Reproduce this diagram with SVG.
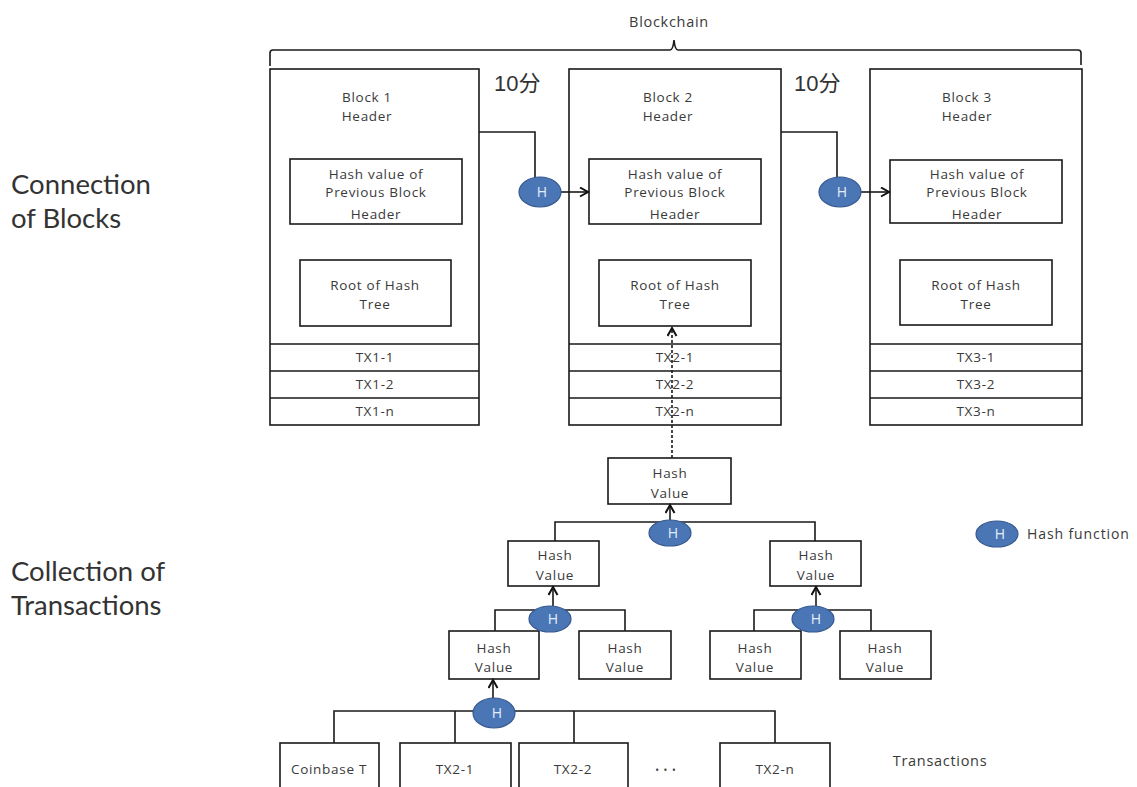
<svg xmlns="http://www.w3.org/2000/svg" width="1137" height="787" viewBox="0 0 1137 787">
<style>
.box{fill:#fff;stroke:#1a1a1a;stroke-width:1.6}
.t{font-family:"Open Sans","Liberation Sans",sans-serif;font-size:13.5px;fill:#3a3a3a;text-anchor:middle;letter-spacing:0.7px}
.big{font-family:Lato,"Open Sans","Liberation Sans",sans-serif;font-size:27.5px;fill:#333}
.cjk{font-family:"Liberation Sans","Noto Sans CJK SC",sans-serif;font-size:22px;fill:#333}
.ln{fill:none;stroke:#1a1a1a;stroke-width:1.6}
.arr{fill:none;stroke:#1a1a1a;stroke-width:1.6;marker-end:url(#ah)}
.hf{fill:#4b76b5;stroke:#35598f;stroke-width:1.2}
.ht{font-family:"Open Sans","Liberation Sans",sans-serif;font-size:14px;fill:#e4eefa;text-anchor:middle}
</style>
<defs>
<marker id="ah" markerWidth="12" markerHeight="12" refX="9" refY="5" orient="auto" markerUnits="userSpaceOnUse">
<path d="M1,0.5 L9,5 L1,9.5" fill="none" stroke="#111" stroke-width="2"/>
</marker>
</defs>
<rect width="1137" height="787" fill="#fff"/>

<g id="labels">
<text class="t" x="669" y="27" style="font-size:14.5px">Blockchain</text>
<text class="big" x="11" y="194">Connection</text>
<text class="big" x="11" y="228">of Blocks</text>
<text class="big" x="11" y="581">Collection of</text>
<text class="big" x="11" y="615">Transactions</text>
<text class="cjk" x="494" y="91">10分</text>
<text class="cjk" x="794" y="91">10分</text>
<text class="t" x="940" y="766" style="font-size:14.5px">Transactions</text>
</g>

<g id="block1">
<rect class="box" x="270" y="69" width="209" height="356"/>
<text class="t" x="367" y="102">Block 1</text>
<text class="t" x="367" y="121">Header</text>
<rect class="box" x="290" y="159" width="172" height="65"/>
<text class="t" x="376" y="179">Hash value of</text>
<text class="t" x="376" y="197">Previous Block</text>
<text class="t" x="376" y="219">Header</text>
<rect class="box" x="300" y="260" width="151" height="66"/>
<text class="t" x="375" y="290">Root of Hash</text>
<text class="t" x="375" y="309">Tree</text>
<path class="ln" d="M270,344 H479 M270,371 H479 M270,398 H479"/>
<text class="t" x="375" y="362">TX1-1</text>
<text class="t" x="375" y="389">TX1-2</text>
<text class="t" x="375" y="416">TX1-n</text>
</g>

<g id="block2">
<rect class="box" x="569" y="69" width="212" height="356"/>
<text class="t" x="668" y="102">Block 2</text>
<text class="t" x="668" y="121">Header</text>
<rect class="box" x="589" y="159" width="172" height="65"/>
<text class="t" x="675" y="179">Hash value of</text>
<text class="t" x="675" y="197">Previous Block</text>
<text class="t" x="675" y="219">Header</text>
<rect class="box" x="599" y="260" width="152" height="66"/>
<text class="t" x="675" y="290">Root of Hash</text>
<text class="t" x="675" y="309">Tree</text>
<path class="ln" d="M569,344 H781 M569,371 H781 M569,398 H781"/>
<text class="t" x="675" y="362">TX2-1</text>
<text class="t" x="675" y="389">TX2-2</text>
<text class="t" x="675" y="416">TX2-n</text>
</g>

<g id="block3">
<rect class="box" x="870" y="69" width="212" height="356"/>
<text class="t" x="967" y="102">Block 3</text>
<text class="t" x="967" y="121">Header</text>
<rect class="box" x="890" y="160" width="172" height="63"/>
<text class="t" x="977" y="179">Hash value of</text>
<text class="t" x="977" y="197">Previous Block</text>
<text class="t" x="977" y="219">Header</text>
<rect class="box" x="900" y="260" width="152" height="65"/>
<text class="t" x="976" y="290">Root of Hash</text>
<text class="t" x="976" y="309">Tree</text>
<path class="ln" d="M870,344 H1082 M870,371 H1082 M870,398 H1082"/>
<text class="t" x="976" y="362">TX3-1</text>
<text class="t" x="976" y="389">TX3-2</text>
<text class="t" x="976" y="416">TX3-n</text>
</g>

<g id="hash-root">
<rect class="box" x="608" y="458" width="123" height="46"/>
<text class="t" x="670" y="478">Hash</text>
<text class="t" x="670" y="498">Value</text>
</g>
<g id="hash-l2a">
<rect class="box" x="508" y="541" width="91" height="45"/>
<text class="t" x="555" y="560">Hash</text>
<text class="t" x="555" y="580">Value</text>
</g>
<g id="hash-l2b">
<rect class="box" x="770" y="541" width="91" height="45"/>
<text class="t" x="816" y="560">Hash</text>
<text class="t" x="816" y="580">Value</text>
</g>
<g id="hash-l3a">
<rect class="box" x="449" y="631" width="90" height="48"/>
<text class="t" x="494" y="653">Hash</text>
<text class="t" x="494" y="672">Value</text>
</g>
<g id="hash-l3b">
<rect class="box" x="579" y="631" width="92" height="48"/>
<text class="t" x="625" y="653">Hash</text>
<text class="t" x="625" y="672">Value</text>
</g>
<g id="hash-l3c">
<rect class="box" x="710" y="631" width="91" height="48"/>
<text class="t" x="755" y="653">Hash</text>
<text class="t" x="755" y="672">Value</text>
</g>
<g id="hash-l3d">
<rect class="box" x="840" y="631" width="91" height="48"/>
<text class="t" x="885" y="653">Hash</text>
<text class="t" x="885" y="672">Value</text>
</g>

<g id="tx-coinbase">
<rect class="box" x="280" y="743" width="99" height="60"/>
<text class="t" x="329" y="774">Coinbase T</text>
</g>
<g id="tx-2-1">
<rect class="box" x="400" y="743" width="111" height="60"/>
<text class="t" x="455" y="774">TX2-1</text>
</g>
<g id="tx-2-2">
<rect class="box" x="519" y="743" width="109" height="60"/>
<text class="t" x="573" y="774">TX2-2</text>
</g>
<text class="t" x="666" y="774" style="font-size:10px;letter-spacing:1px">• • •</text>
<g id="tx-2-n">
<rect class="box" x="720" y="743" width="110" height="60"/>
<text class="t" x="775" y="774">TX2-n</text>
</g>

<g id="connectors">
<path class="ln" d="M270,66 L270,53 Q270,50 273,50 L670,50 Q673,50 674,40 Q675,50 678,50 L1078,50 Q1081,50 1081,53 L1081,65"/>
<path class="ln" d="M479,132 L535,132 L535,178"/>
<path class="arr" d="M561,192 L588,192"/>
<path class="ln" d="M781,132 L837,132 L837,178"/>
<path class="arr" d="M861,192 L889,192"/>
<path class="arr" d="M672,458 L672,328" stroke-dasharray="3,2"/>
<path class="ln" d="M555,541 L555,522 L815,522 L815,541"/>
<path class="arr" d="M670,520 L670,505"/>
<path class="ln" d="M495,631 L495,610 L625,610 L625,631"/>
<path class="arr" d="M553,606 L553,587"/>
<path class="ln" d="M754,631 L754,610 L871,610 L871,631"/>
<path class="arr" d="M816,606 L816,587"/>
<path class="ln" d="M334,743 L334,711 L775,711 L775,743 M455,711 L455,743 M574,711 L574,743"/>
<path class="arr" d="M493,700 L493,680"/>
</g>

<g id="h-fn-1"><ellipse class="hf" cx="540" cy="192" rx="21" ry="15"/><text class="ht" x="542" y="197">H</text></g>
<g id="h-fn-2"><ellipse class="hf" cx="840" cy="192" rx="21" ry="15"/><text class="ht" x="842" y="197">H</text></g>
<g id="h-fn-3"><ellipse class="hf" cx="670" cy="533" rx="21" ry="13"/><text class="ht" x="673" y="538">H</text></g>
<g id="h-fn-4"><ellipse class="hf" cx="550" cy="619" rx="21" ry="13"/><text class="ht" x="553" y="624">H</text></g>
<g id="h-fn-5"><ellipse class="hf" cx="813" cy="619" rx="21" ry="13"/><text class="ht" x="816" y="624">H</text></g>
<g id="h-fn-6"><ellipse class="hf" cx="494" cy="713" rx="21" ry="15"/><text class="ht" x="497" y="718">H</text></g>

<g id="legend">
<ellipse class="hf" cx="997" cy="534" rx="21" ry="13"/><text class="ht" x="1000" y="539">H</text>
<text class="t" x="1027" y="539" style="text-anchor:start;font-size:14px;letter-spacing:0.9px">Hash function</text>
</g>
</svg>
